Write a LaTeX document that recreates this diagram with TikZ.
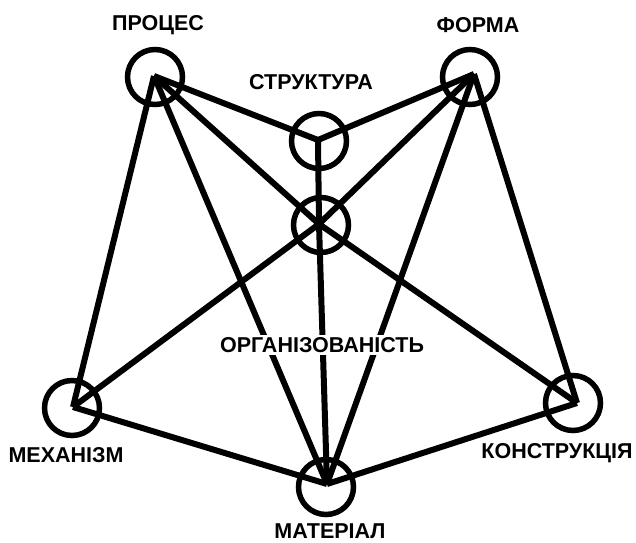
\documentclass[tikz,border=0pt]{standalone}
\usepackage{fontspec}
\setmainfont{Liberation Sans}
\begin{document}
\begin{tikzpicture}[x=1pt,y=-1pt,
  ring/.style={circle, draw, line width=5.5pt, minimum size=55pt, inner sep=0pt},
  lbl/.style={font=\bfseries\fontsize{21.5}{25}\selectfont, inner sep=0pt},
  link/.style={line width=6pt, line join=round}]
\useasboundingbox (0,0) rectangle (636,542);
\fill[white] (0,0) rectangle (636,542);
% rings
\node[ring] (cP) at (155,77) {};
\node[ring] (cF) at (470,77) {};
\node[ring] (cS) at (319,141) {};
\node[ring] (cH) at (321,225) {};
\node[ring] (cMe) at (72,408) {};
\node[ring] (cMa) at (326,487) {};
\node[ring] (cK) at (573,403) {};
% vertices
\coordinate (P) at (154,76);
\coordinate (F) at (474,74);
\coordinate (S) at (318,140);
\coordinate (H) at (319,224);
\coordinate (Me) at (73,407);
\coordinate (Ma) at (327,484);
\coordinate (K) at (577,403);
% links
\draw[link] (P) -- (S);
\draw[link] (F) -- (S);
\draw[link] (S) -- (H);
\draw[link] (H) -- (Ma);
\draw[link] (P) -- (H);
\draw[link] (H) -- (K);
\draw[link] (F) -- (H);
\draw[link] (H) -- (Me);
\draw[link] (P) -- (Me);
\draw[link] (P) -- (Ma);
\draw[link] (F) -- (Ma);
\draw[link] (F) -- (K);
\draw[link] (Me) -- (Ma);
\draw[link] (Ma) -- (K);
% labels
\node[lbl] (tP) at (158,25) {ПРОЦЕС};
\node[lbl] (tF) at (478,25) {ФОРМА};
\node[lbl] (tS) at (311,82) {СТРУКТУРА};
\node[lbl, fill=white, inner sep=2pt] (tH) at (322,345) {ОРГАНІЗОВАНІСТЬ};
\node[lbl] (tMe) at (66,455) {МЕХАНІЗМ};
\node[lbl] (tMa) at (330,531) {МАТЕРІАЛ};
\node[lbl] (tK) at (557,453) {КОНСТРУКЦІЯ};
\end{tikzpicture}
\end{document}
